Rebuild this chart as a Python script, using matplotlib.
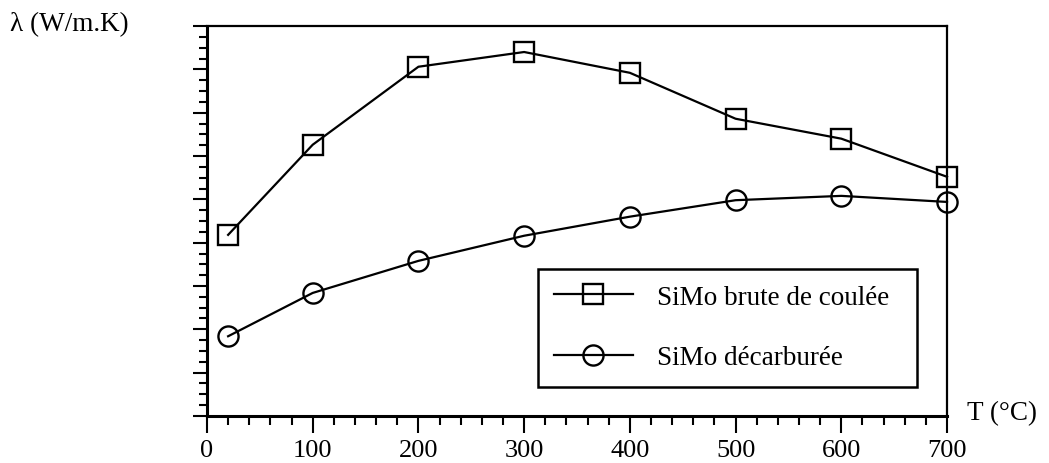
import matplotlib
matplotlib.use("Agg")
import matplotlib.pyplot as plt
from matplotlib.ticker import MultipleLocator, NullFormatter

plt.rcParams['font.family'] = ['Liberation Serif', 'DejaVu Serif']

temperature = [20, 100, 200, 300, 400, 500, 600, 700]
brute_coulee = [20.9, 31.3, 40.3, 42.0, 39.6, 34.3, 32.0, 27.6]
decarburee = [9.2, 14.2, 17.9, 20.8, 23.0, 24.9, 25.4, 24.7]
labels = ["SiMo brute de coulée", "SiMo décarburée"]
x_ticks = [0, 100, 200, 300, 400, 500, 600, 700]

FS = 19.5

fig = plt.figure(figsize=(10.49, 4.64), dpi=100)
ax = fig.add_axes([0.1973, 0.1013, 0.7055, 0.8405])

ax.plot(temperature, brute_coulee, color='black', lw=1.6, marker='s', ms=14,
        mfc='none', mec='black', mew=1.7, clip_on=False, label=labels[0])
ax.plot(temperature, decarburee, color='black', lw=1.6, marker='o', ms=14.5,
        mfc='none', mec='black', mew=1.7, clip_on=False, label=labels[1])

ax.set_xlim(0, 700)
ax.set_ylim(0, 45)
ax.set_xticks(x_ticks)
ax.set_xticklabels([str(v) for v in x_ticks], fontsize=19)
ax.xaxis.set_minor_locator(MultipleLocator(20))
ax.yaxis.set_major_locator(MultipleLocator(5))
ax.yaxis.set_minor_locator(MultipleLocator(1.25))
ax.yaxis.set_major_formatter(NullFormatter())

ax.tick_params(axis='x', which='major', length=12, width=1.5, direction='out', pad=4.5)
ax.tick_params(axis='x', which='minor', length=6.5, width=1.5, direction='out')
ax.tick_params(axis='y', which='major', length=10, width=1.5, direction='out')
ax.tick_params(axis='y', which='minor', length=6, width=1.5, direction='out')

for side in ['left', 'bottom']:
    ax.spines[side].set_linewidth(2.2)
for side in ['top', 'right']:
    ax.spines[side].set_linewidth(1.6)

leg = ax.legend(loc='upper left', bbox_to_anchor=(0.447, 0.079, 0.513, 0.299),
                mode='expand', borderaxespad=0, fontsize=FS, handlelength=2.9,
                handletextpad=0.9, labelspacing=1.31, borderpad=0.6,
                fancybox=False, edgecolor='black', framealpha=1)
leg.get_frame().set_linewidth(1.8)

fig.text(10/1049, 1 - 25/464, "λ (W/m.K)", fontsize=FS, va='center', ha='left')
fig.text(967/1049, 1 - 414/464, "T (°C)", fontsize=FS, va='center', ha='left')

fig.savefig("out.png", dpi=100)
